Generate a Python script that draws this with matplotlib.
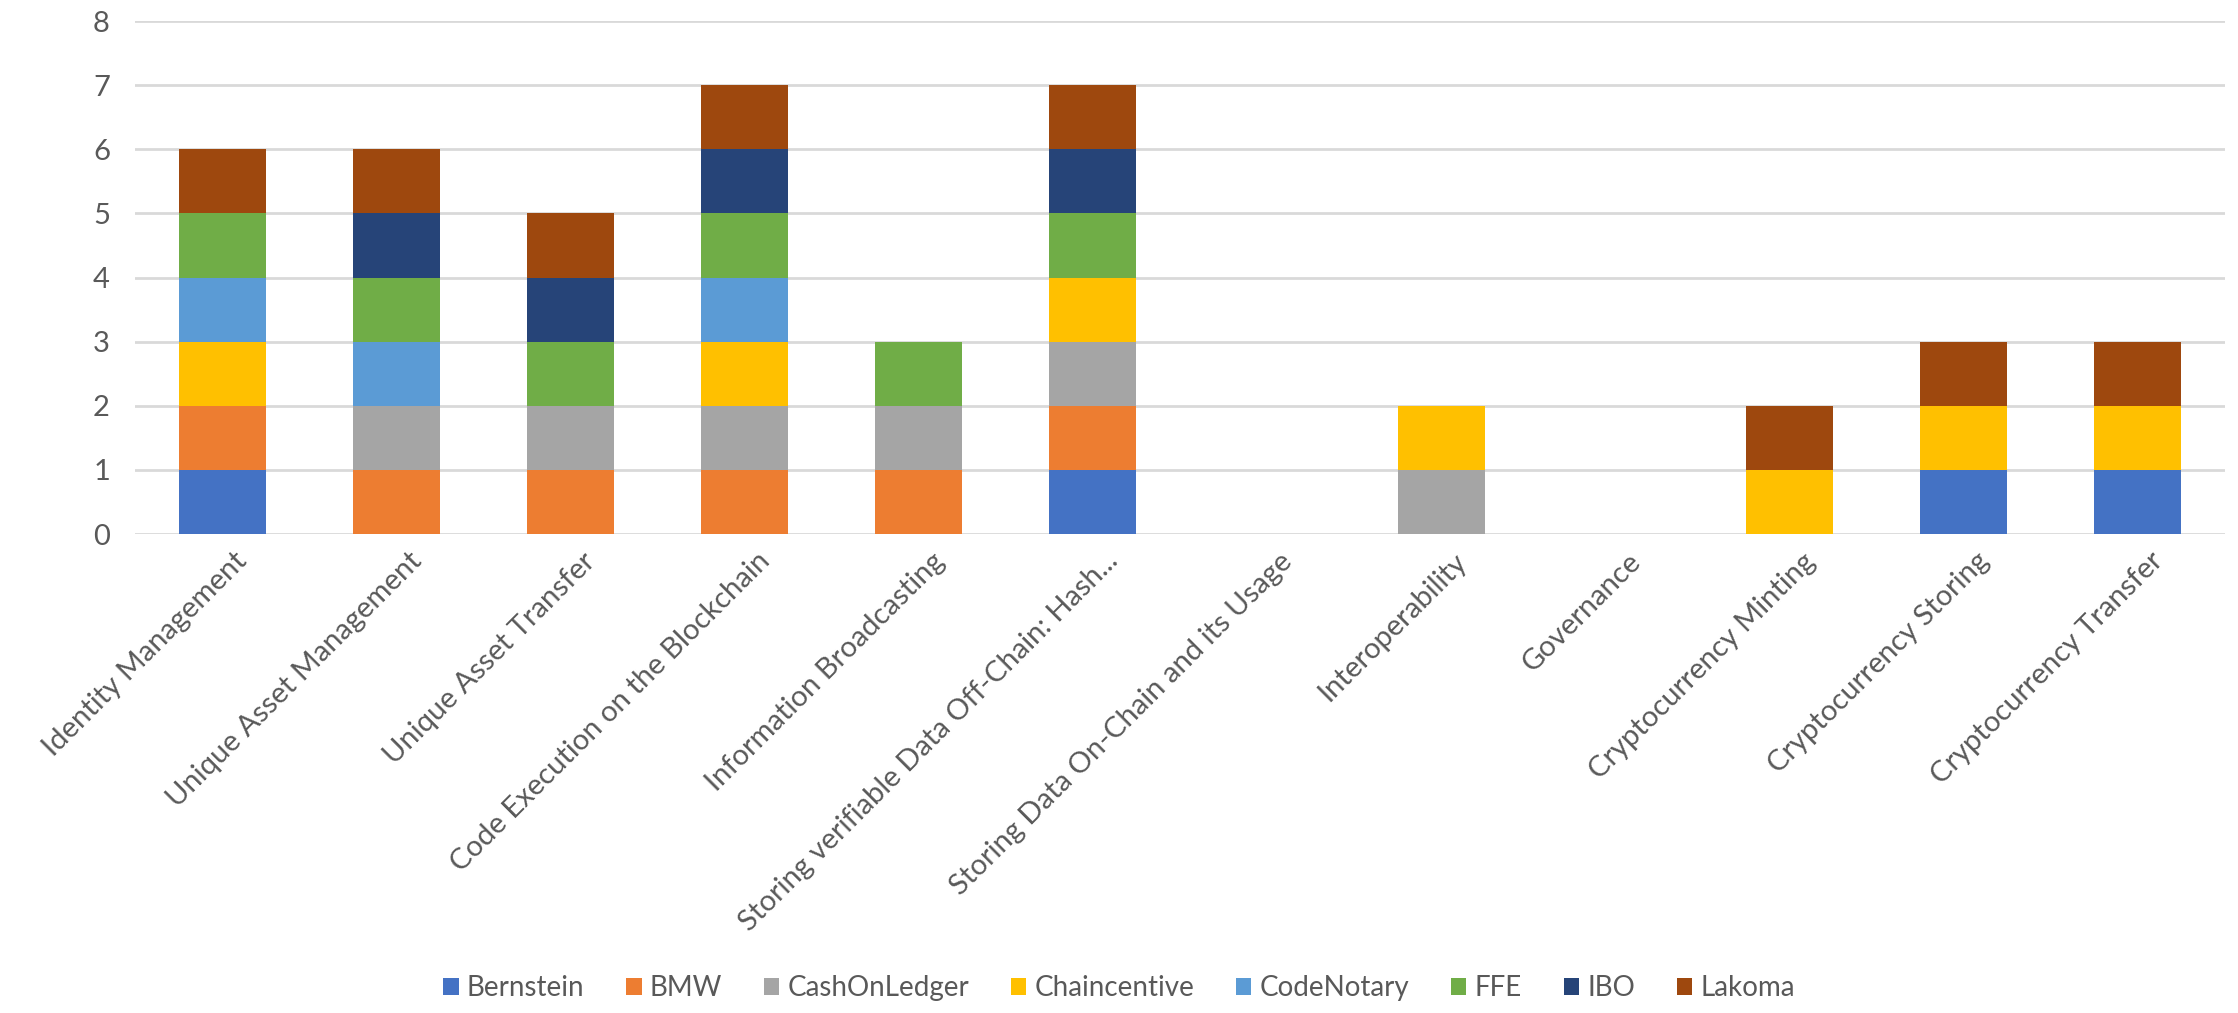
import numpy as np
import matplotlib.pyplot as plt
from matplotlib.transforms import ScaledTranslation
plt.rcParams['font.family'] = ['Lato', 'DejaVu Sans']

categorias = ["Identity Management", "Unique Asset Management", "Unique Asset Transfer",
              "Code Execution on the Blockchain", "Information Broadcasting",
              "Storing verifiable Data Off-Chain: Hash...", "Storing Data On-Chain and its Usage",
              "Interoperability", "Governance", "Cryptocurrency Minting",
              "Cryptocurrency Storing", "Cryptocurrency Transfer"]

bernstein    = [1, 0, 0, 0, 0, 1, 0, 0, 0, 0, 1, 1]
bmw          = [1, 1, 1, 1, 1, 1, 0, 0, 0, 0, 0, 0]
cashonledger = [0, 1, 1, 1, 1, 1, 0, 1, 0, 0, 0, 0]
chaincentive = [1, 0, 0, 1, 0, 1, 0, 1, 0, 1, 1, 1]
codenotary   = [1, 1, 0, 1, 0, 0, 0, 0, 0, 0, 0, 0]
ffe          = [1, 1, 1, 1, 1, 1, 0, 0, 0, 0, 0, 0]
ibo          = [0, 1, 1, 1, 0, 1, 0, 0, 0, 0, 0, 0]
lakoma       = [1, 1, 1, 1, 0, 1, 0, 0, 0, 1, 1, 1]

series = [("Bernstein", bernstein, '#4472C4'),
          ("BMW", bmw, '#ED7D31'),
          ("CashOnLedger", cashonledger, '#A5A5A5'),
          ("Chaincentive", chaincentive, '#FFC000'),
          ("CodeNotary", codenotary, '#5B9BD5'),
          ("FFE", ffe, '#70AD47'),
          ("IBO", ibo, '#264478'),
          ("Lakoma", lakoma, '#9E480E')]

gris = '#595959'
fig = plt.figure(figsize=(22.38, 10.13), dpi=100)
ax = fig.add_axes([135/2238, 1 - 534/1013, (2225-135)/2238, (534-21)/1013])

x = np.arange(len(categorias))
base = np.zeros(len(categorias))
for nombre, vals, color in series:
    vals = np.array(vals, dtype=float)
    ax.bar(x, vals, 0.5, bottom=base, color=color, label=nombre, zorder=2)
    base += vals

ax.set_xlim(-0.5, len(categorias) - 0.5)
ax.set_ylim(0, 8)
ax.set_yticks(range(9))
ax.yaxis.grid(True, color='#d9d9d9', linewidth=2, zorder=0)
ax.set_axisbelow(True)
for s in ax.spines.values():
    s.set_visible(False)
ax.tick_params(axis='y', length=0, labelsize=21, colors=gris, pad=18)
ax.tick_params(axis='x', length=0, labelsize=21, colors=gris, pad=10)
ax.set_xticks(x)
ax.set_xticklabels(categorias, rotation=45, ha='right', rotation_mode='anchor')
desplaza = ScaledTranslation(0.12, 0, fig.dpi_scale_trans)
for etiqueta in ax.get_xticklabels():
    etiqueta.set_transform(etiqueta.get_transform() + desplaza)

fig.legend(loc='center', bbox_to_anchor=(0.5, 1 - 988/1013), ncol=8, frameon=False,
           fontsize=20, handlelength=0.55, handleheight=0.55, handletextpad=0.3,
           columnspacing=1.5, labelcolor=gris)

plt.savefig("out.png")
